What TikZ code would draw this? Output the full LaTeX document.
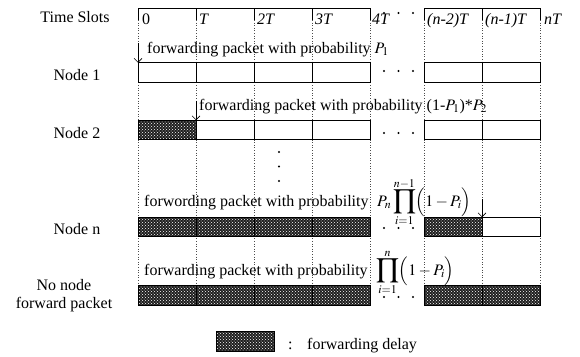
\documentclass[tikz,border=0pt]{standalone}
\usepackage{mathptmx}
\usepackage{fontspec}
\setmainfont{Liberation Serif}
\usetikzlibrary{patterns,arrows.meta}
\newcommand{\bigprod}{\mathop{\vcenter{\hbox{\scalebox{1.2}{$\displaystyle\prod$}}}}\limits}
\begin{document}
\begin{tikzpicture}[x=1pt,y=-1pt,font=\fontsize{16}{18}\selectfont,
  cellbox/.style={draw,line width=0.8pt,fill=white,minimum width=58pt,minimum height=19.5pt,inner sep=0,outer sep=0},
  delaybox/.style={draw,line width=0.8pt,minimum width=58pt,minimum height=19.5pt,inner sep=0,outer sep=0,
     preaction={fill=black!88},pattern=crosshatch dots,pattern color=white},
  gridline/.style={dotted,black!70,line width=0.6pt},
  ruler/.style={line width=0.8pt},
  lbl/.style={anchor=base,inner sep=0},
  txt/.style={anchor=base west,inner sep=0},
  dotnode/.style={circle,fill,inner sep=0,minimum size=2.4pt},
  fwd/.style={-{Straight Barb[length=4pt,width=8pt]},line width=0.6pt}]
\useasboundingbox (0,0) rectangle (580,356);
% dotted grid
\foreach \x in {138,196,254,312,370,424,482,540}
  \draw[gridline] (\x,20) -- (\x,305);
% ruler
\draw[ruler] (138,8) -- (370,8);
\draw[ruler] (424,8) -- (540,8);
\foreach \x in {138,196,254,312,370,424,482,540}
  \draw[ruler] (\x,8) -- (\x,20);
% time labels
\node[txt] (t0) at (142,24) {0};
\node[txt] (t1) at (199,24) {\textit{T}};
\node[txt] (t2) at (257,24) {\textit{2T}};
\node[txt] (t3) at (315,24) {\textit{3T}};
\node[txt] (t4) at (372,24) {\textit{4T}};
\node[txt] (t5) at (427,24) {\textit{(n-2)T}};
\node[txt] (t6) at (485,24) {\textit{(n-1)T}};
\node[txt] (t7) at (544,24) {\textit{nT}};
% row labels
\node[lbl] (L0) at (75,22) {Time Slots};
\node[lbl] (L1) at (77,80) {Node 1};
\node[lbl] (L2) at (77,138) {Node 2};
\node[lbl] (L3) at (77,234) {Node n};
\node[align=center,inner sep=0,font=\fontsize{16}{18}\selectfont] (L4) at (64,296) {No node\\forward packet};
% row 1
\node[cellbox] (a1) at (167,72.5) {};
\node[cellbox] (a2) at (225,72.5) {};
\node[cellbox] (a3) at (283,72.5) {};
\node[cellbox] (a4) at (341,72.5) {};
\node[cellbox] (a5) at (453,72.5) {};
\node[cellbox] (a6) at (511,72.5) {};
% row 2
\node[delaybox] (b1) at (167,130) {};
\node[cellbox] (b2) at (225,130) {};
\node[cellbox] (b3) at (283,130) {};
\node[cellbox] (b4) at (341,130) {};
\node[cellbox] (b5) at (453,130) {};
\node[cellbox] (b6) at (511,130) {};
% row n
\node[delaybox] (c1) at (167,227) {};
\node[delaybox] (c2) at (225,227) {};
\node[delaybox] (c3) at (283,227) {};
\node[delaybox] (c4) at (341,227) {};
\node[delaybox] (c5) at (453,227) {};
\node[cellbox] (c6) at (511,227) {};
% no node row
\node[delaybox] (d1) at (167,295.5) {};
\node[delaybox] (d2) at (225,295.5) {};
\node[delaybox] (d3) at (283,295.5) {};
\node[delaybox] (d4) at (341,295.5) {};
\node[delaybox] (d5) at (453,295.5) {};
\node[delaybox] (d6) at (511,295.5) {};
% ellipsis dots
\foreach \r/\y in {h/13,a/71,b/133,c/228,d/297}{
  \node[dotnode] (e\r1) at (384,\y) {};
  \node[dotnode] (e\r2) at (398.5,\y) {};
  \node[dotnode] (e\r3) at (413,\y) {};
}
\node[dotnode] (v1) at (279,152) {};
\node[dotnode] (v2) at (279,166.5) {};
\node[dotnode] (v3) at (279,181) {};
% probability texts
\node[txt] (p1) at (147,53) {forwarding packet with probability $P_1$};
\node[txt] (p2) at (199,110) {forwarding packet with probability (1-$P_1$)*$P_2$};
\node[txt] (p3) at (144,206) {forwording packet with probability\; $\displaystyle P_n\bigprod_{i=1}^{n-1}\Bigl(1-P_i\Bigr)$};
\node[txt] (p4) at (144,275) {forwarding packet with probability\; $\displaystyle \bigprod_{i=1}^{n}\Bigl(1-P_i\Bigr)$};
% arrows
\coordinate (s1) at (138,43);
\coordinate (s2) at (196,101);
\coordinate (s3) at (482,199);
\draw[fwd] (s1) -- (a1.north west);
\draw[fwd] (s2) -- (b2.north west);
\draw[fwd] (s3) -- (c6.north west);
% legend
\node[delaybox] (lg) at (245,341.5) {};
\node[txt] (lc) at (288,349) {:};
\node[txt] (ld) at (307,349) {forwarding delay};
\end{tikzpicture}
\end{document}
